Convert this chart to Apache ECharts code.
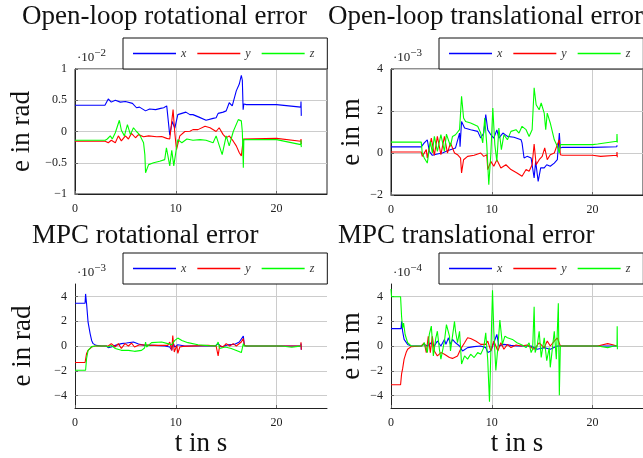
<!DOCTYPE html>
<html>
<head>
<meta charset="utf-8">
<title>Open-loop and MPC errors</title>
<script src="https://cdn.jsdelivr.net/npm/echarts@6.0.0/dist/echarts.min.js"></script>
<style>
html, body { margin: 0; padding: 0; background: #fff; }
#main { width: 643px; height: 458px; }
</style>
</head>
<body>
<div id="main"></div>
<script>
// tick labels
const timeTicks = [0, 10, 20];
const olRotTicks = [-1, -0.5, 0, 0.5, 1];
const olTrTicks = [-2, 0, 2, 4];
const mpcTicks = [-4, -2, 0, 2, 4];
const seriesNames = ['x', 'y', 'z'];

// open-loop rotational error, [t in s, e in 1e-2 rad]
const olRotX = [[0,0.42],[2.97,0.42],[3.3,0.52],[3.6,0.47],[4.0,0.5],[4.5,0.47],[5.0,0.48],[5.7,0.45],[6.1,0.38],[6.4,0.39],[7.0,0.33],[7.4,0.36],[8.0,0.35],[8.5,0.37],[8.8,0.38],[9.1,0.41],[9.4,-0.06],[9.65,0.16],[9.9,0.05],[10.2,0.27],[10.6,0.29],[11.0,0.31],[11.4,0.27],[11.7,0.27],[12.3,0.23],[13.0,0.18],[13.7,0.21],[14.0,0.22],[14.2,0.29],[14.7,0.31],[15.0,0.33],[15.3,0.46],[15.6,0.41],[16.0,0.65],[16.3,0.76],[16.5,0.9],[16.6,0.82],[16.68,0.35],[16.75,0.44],[17.0,0.43],[20.0,0.43],[22.4,0.39],[22.42,0.48],[22.45,0.25]];
const olRotY = [[0,-0.155],[3.0,-0.155],[3.3,-0.18],[3.6,-0.14],[4.0,-0.18],[4.3,-0.07],[4.6,-0.15],[5.0,-0.07],[5.3,-0.12],[5.6,-0.03],[6.0,-0.1],[6.3,-0.05],[6.8,-0.085],[7.3,-0.07],[8.1,-0.085],[8.6,-0.08],[9.1,-0.11],[9.4,-0.12],[9.73,0.35],[9.9,-0.02],[10.07,-0.29],[10.4,-0.07],[10.9,0.0],[11.4,0.005],[11.7,0.03],[12.2,0.03],[12.9,0.085],[13.4,0.06],[14.0,0.0],[14.3,0.06],[14.7,-0.05],[15.0,-0.1],[15.3,-0.07],[15.7,-0.155],[16.0,-0.23],[16.3,-0.34],[16.5,-0.39],[16.7,-0.12],[16.8,-0.11],[20.0,-0.11],[22.4,-0.155],[22.42,-0.12],[22.45,-0.2]];
const olRotZ = [[0,-0.14],[3.0,-0.14],[3.2,-0.12],[3.5,-0.07],[3.7,-0.12],[4.0,-0.02],[4.4,0.18],[4.6,0.02],[4.9,-0.07],[5.2,0.11],[5.5,-0.05],[5.8,0.06],[6.1,0.0],[6.4,-0.05],[6.8,-0.18],[6.93,-0.37],[7.0,-0.66],[7.3,-0.53],[7.8,-0.5],[8.4,-0.475],[8.9,-0.45],[9.07,-0.26],[9.4,-0.55],[9.6,-0.3],[9.8,-0.55],[10.07,-0.26],[10.2,-0.13],[10.6,-0.18],[11.1,-0.12],[11.7,-0.14],[12.4,-0.13],[13.0,-0.14],[13.7,-0.18],[14.0,-0.07],[14.6,-0.37],[15.0,-0.07],[15.3,-0.23],[15.7,0.0],[16.2,0.19],[16.5,0.17],[16.6,0.0],[16.7,-0.58],[16.75,-0.13],[20.0,-0.13],[22.4,-0.21],[22.42,-0.14],[22.45,-0.25]];

// open-loop translational error, [t in s, e in 1e-3 m]
const olTrX = [[0,0.29],[3.0,0.29],[3.3,0.48],[3.6,0.63],[3.8,0.08],[4.1,-0.11],[4.6,-0.05],[5.1,0],[5.6,0.11],[6.1,0.19],[6.4,0.24],[6.8,0.95],[6.85,0.3],[7.0,1.5],[7.3,1.19],[7.9,1.11],[8.6,1.03],[8.9,0.71],[9.2,0.95],[9.4,1.83],[9.6,1.1],[9.9,0.87],[10.2,0.71],[10.5,1.1],[10.7,0.71],[11.1,0.95],[11.55,0.79],[12.2,0.75],[12.9,0.63],[13.0,0.48],[13.2,-0.24],[13.5,-0.16],[13.9,-0.24],[14.0,-0.56],[14.2,-1.19],[14.35,-0.4],[14.6,-1.35],[14.85,-0.71],[15.2,-0.71],[15.45,-0.56],[15.8,-0.63],[16.2,-0.48],[16.5,-0.32],[16.7,0.95],[16.8,0.24],[17.0,0.27],[20.0,0.27],[22.4,0.3],[22.42,0.37],[22.45,0.24]];
const olTrY = [[0,0.05],[3.0,0.05],[3.1,-0.16],[3.5,0.16],[3.6,-0.24],[4.0,0.71],[4.3,-0.11],[4.6,0.79],[4.95,-0.08],[5.3,0.79],[5.6,0],[5.9,0.48],[6.3,0],[6.6,-0.08],[6.9,-0.24],[7.0,-0.95],[7.2,-0.32],[7.6,-0.16],[8.25,-0.11],[8.9,0],[9.2,-0.16],[9.5,-0.08],[9.6,-0.79],[9.9,-0.4],[10.2,-0.63],[10.5,-0.32],[10.9,-0.71],[11.4,-0.56],[11.9,-0.79],[12.5,-0.95],[13.0,-1.11],[13.4,-0.79],[13.7,-0.87],[14.0,-0.56],[14.2,0.43],[14.4,-0.56],[14.7,-0.32],[15.0,-0.16],[15.25,0.24],[15.5,-0.32],[15.8,-0.08],[16.2,0],[16.5,0.4],[16.7,0.63],[16.8,-0.08],[17.0,-0.11],[20.0,-0.11],[20.8,-0.16],[22.4,-0.11],[22.42,0.05],[22.45,-0.2]];
const olTrZ = [[0,0.52],[3.0,0.52],[3.1,0],[3.3,-0.24],[3.6,-0.48],[3.9,0.56],[4.1,0],[4.3,0.79],[4.6,0.08],[4.95,0.87],[5.3,0.08],[5.5,0.9],[5.9,0.32],[6.1,0.79],[6.4,0.87],[6.8,1.11],[7.0,2.7],[7.2,1.67],[7.4,1.5],[7.9,1.43],[8.6,1.27],[8.9,0.95],[9.1,0.48],[9.3,1.67],[9.5,0.4],[9.7,-1.51],[9.9,-0.08],[10.1,2.14],[10.3,0.4],[10.5,-0.4],[10.7,1.19],[10.95,0.16],[11.2,0.87],[11.55,0.63],[11.9,1.03],[12.4,1.11],[12.7,0.95],[13.0,1.27],[13.4,1.11],[13.7,0.79],[14.0,1.11],[14.2,3.1],[14.4,2.3],[14.7,2.06],[14.9,2.38],[15.2,1.9],[15.35,1.11],[15.5,1.9],[15.8,1.43],[16.2,0.63],[16.5,0.32],[16.7,0],[16.8,0.4],[20.0,0.4],[20.5,0.43],[22.4,0.56],[22.42,0.9],[22.45,0.5]];

// MPC rotational error, [t in s, e in 1e-3 rad]
const mpcRotX = [[0,3.45],[1.0,3.45],[1.05,4.2],[1.15,3.4],[1.3,1.9],[1.5,1.0],[1.65,0.45],[1.8,0.19],[2.1,0.05],[2.6,0],[3.1,0],[3.3,-0.13],[3.6,-0.08],[4.0,0.05],[4.6,0.19],[5.1,0.24],[5.8,0.32],[6.3,0.16],[6.9,0.05],[7.9,0.05],[8.9,0],[9.4,-0.08],[9.6,-0.35],[9.7,0.32],[9.9,-0.08],[10.2,0.1],[10.9,0],[13.9,0],[14.2,0.19],[14.5,-0.08],[15.2,0.1],[15.8,0.13],[16.3,0.32],[16.7,0.8],[16.8,0.05],[17.0,0],[22.4,0],[22.42,0.2],[22.45,-0.3]];
const mpcRotY = [[0,-1.33],[1.0,-1.33],[1.15,-0.6],[1.3,-0.35],[1.65,-0.08],[2.0,0],[3.3,0],[3.6,0.19],[4.0,-0.08],[4.3,0.19],[4.6,-0.2],[4.95,0.19],[5.3,0],[5.6,0.24],[5.9,-0.08],[6.4,0.1],[7.9,0.05],[9.2,0.05],[9.4,0.32],[9.6,-0.35],[9.7,0.85],[9.85,-0.48],[10.1,0.05],[10.2,-0.6],[10.4,-0.08],[10.7,-0.03],[13.2,0.05],[14.0,0],[14.2,-0.8],[14.35,0.05],[14.7,-0.08],[15.0,0.19],[15.35,0],[15.7,0.19],[16.0,0],[16.5,0.32],[16.7,0.6],[16.8,0.05],[17.0,0],[22.4,0],[22.42,0.3],[22.45,-0.3]];
const mpcRotZ = [[0,-1.95],[1.05,-1.95],[1.15,-1.0],[1.3,-0.35],[1.65,-0.05],[2.0,0],[3.1,0],[3.3,-0.08],[3.6,0.05],[4.0,-0.2],[4.6,-0.35],[5.3,-0.35],[5.9,-0.43],[6.6,-0.35],[6.9,-0.16],[7.0,0.32],[7.1,-0.08],[7.6,0.27],[8.6,0.32],[9.2,0.19],[9.6,0.1],[9.9,0.45],[10.2,0.64],[10.6,0.45],[11.2,0.27],[12.2,0.1],[13.2,0.03],[14.0,0],[14.2,0.32],[14.35,-0.2],[14.9,-0.08],[15.5,-0.2],[16.2,-0.43],[16.5,-0.53],[16.7,0.19],[16.8,0],[20.5,0],[21.5,-0.1],[22.1,-0.03],[22.4,0]];

// MPC translational error, [t in s, e in 1e-4 m]
const mpcTrX = [[0,1.4],[1.0,1.4],[1.05,2.0],[1.15,1.2],[1.3,0.53],[1.65,0.13],[2.0,0],[3.0,0],[3.3,0.13],[3.6,0],[4.0,0.26],[4.3,0],[4.6,0.4],[4.95,0],[5.3,0.53],[5.45,0.13],[5.7,0.66],[5.9,0.13],[6.1,0.53],[6.4,0.26],[6.8,0],[7.1,-0.4],[7.6,-0.13],[8.25,-0.05],[8.9,0],[9.4,-0.13],[9.6,-0.53],[9.9,-0.4],[10.2,0.26],[10.5,0.93],[10.7,0],[11.2,0.13],[11.9,0.05],[12.5,0],[13.9,0],[14.5,-0.26],[15.2,-0.13],[15.8,-0.26],[16.5,0],[17.0,0],[22.4,0]];
const mpcTrY = [[0,-3.12],[0.95,-3.12],[1.05,-2.25],[1.15,-1.85],[1.3,-1.06],[1.5,-0.53],[1.65,-0.26],[2.0,-0.05],[3.0,0],[3.3,0.26],[3.5,-0.53],[3.7,0.79],[3.9,-0.53],[4.1,0.79],[4.3,-0.4],[4.6,-0.8],[4.95,-0.53],[5.3,-0.66],[5.8,-0.93],[6.1,-1.0],[6.6,-0.8],[6.9,-0.26],[7.3,0.26],[7.6,0.66],[7.9,0.6],[8.4,0.4],[8.9,0.13],[9.4,0.13],[9.6,0.4],[9.9,-0.4],[10.2,0.4],[10.6,-0.4],[10.9,0.26],[11.2,-0.26],[11.55,0.13],[11.9,-0.13],[12.4,0.08],[12.9,0],[13.5,0.08],[14.2,-0.26],[14.7,0.26],[15.2,-0.13],[15.5,0.4],[15.8,0],[16.2,0.4],[16.5,0.66],[16.65,0.53],[16.8,0],[20.5,0],[21.0,0.1],[21.5,0.19],[22.0,0.1],[22.4,0]];
const mpcTrZ = [[0,4.6],[0.05,3.97],[0.95,3.97],[1.05,2.38],[1.15,1.45],[1.25,1.85],[1.4,0.93],[1.65,0.26],[2.0,0],[3.1,0],[3.3,0.26],[3.5,-0.26],[3.6,-0.53],[3.8,0.93],[4.0,1.6],[4.2,-0.8],[4.45,0.66],[4.6,1.19],[4.8,-0.26],[4.95,-1.06],[5.3,0.4],[5.5,1.72],[5.8,0.8],[5.9,-0.4],[6.3,1.98],[6.4,1.19],[6.6,0.26],[6.8,1.19],[7.0,-1.45],[7.3,-0.8],[7.6,-1.06],[7.9,-0.66],[8.25,-0.93],[8.6,-0.53],[8.9,-0.66],[9.2,-0.13],[9.4,1.06],[9.6,-1.19],[9.77,-4.5],[9.9,-0.66],[10.07,4.5],[10.2,1.19],[10.4,-1.98],[10.6,-0.13],[10.8,2.1],[11.05,0.13],[11.3,0.8],[11.55,0.66],[12.05,0.53],[12.5,0.26],[13.0,0.08],[13.4,-0.13],[13.7,0.26],[13.9,-0.53],[14.05,-0.26],[14.2,3.17],[14.3,-0.53],[14.5,0],[14.7,1.19],[14.9,-0.93],[15.2,0.66],[15.45,-1.19],[15.7,-0.13],[15.8,-1.72],[16.2,1.19],[16.4,-1.06],[16.6,3.44],[16.7,-3.97],[16.8,0],[20.5,0],[21.5,-0.13],[22.1,0],[22.42,0],[22.44,1.6],[22.46,-0.26]];

const colors = ['#0000ff', '#ff0000', '#00ff00'];
const serif = '"Liberation Serif", "DejaVu Serif", serif';

const panels = [
  { title: 'Open-loop rotational error', yName: 'e in rad', exp: '−2', ticks: olRotTicks, min: -1, max: 1,
    data: [olRotX, olRotY, olRotZ], grid: { left: 75, top: 69, width: 252, height: 125 }, box: true, nameGap: 40 },
  { title: 'Open-loop translational error', yName: 'e in m', exp: '−3', ticks: olTrTicks, min: -2, max: 4,
    data: [olTrX, olTrY, olTrZ], grid: { left: 391, top: 69, width: 253, height: 126 }, box: true, nameGap: 26 },
  { title: 'MPC rotational error', yName: 'e in rad', exp: '−3', ticks: mpcTicks, min: -5, max: 5,
    data: [mpcRotX, mpcRotY, mpcRotZ], grid: { left: 75, top: 284, width: 252, height: 125 }, xName: 't in s', nameGap: 39 },
  { title: 'MPC translational error', yName: 'e in m', exp: '−4', ticks: mpcTicks, min: -5, max: 5,
    data: [mpcTrX, mpcTrY, mpcTrZ], grid: { left: 391, top: 284, width: 252, height: 125 }, xName: 't in s', nameGap: 26 }
];

const minus = v => String(v).replace('-', '−');

const option = {
  animation: false,
  backgroundColor: '#fff',
  color: colors,
  grid: [],
  xAxis: [],
  yAxis: [],
  legend: [],
  series: [],
  graphic: []
};

panels.forEach((p, i) => {
  option.grid.push(Object.assign({
    show: !!p.box,
    borderColor: '#222',
    borderWidth: 1,
    backgroundColor: 'transparent'
  }, p.grid));
  option.xAxis.push({
    type: 'value',
    gridIndex: i,
    min: 0,
    max: 25,
    name: p.xName || '',
    nameLocation: 'middle',
    nameGap: 22,
    nameTextStyle: { fontFamily: serif, fontSize: 27, color: '#111' },
    axisLine: { show: true, onZero: false, lineStyle: { color: '#222', width: 1 } },
    axisTick: { show: true, inside: true, length: 3, customValues: timeTicks, lineStyle: { color: '#666' } },
    axisLabel: { customValues: timeTicks, fontFamily: serif, fontSize: 12, color: '#222', margin: 9 },
    splitLine: { show: true, lineStyle: { color: '#cccccc', width: 1 } }
  });
  option.yAxis.push({
    type: 'value',
    gridIndex: i,
    min: p.min,
    max: p.max,
    name: p.yName,
    nameLocation: 'middle',
    nameGap: p.nameGap,
    nameRotate: 90,
    nameTextStyle: { fontFamily: serif, fontSize: 27, color: '#111' },
    axisLine: { show: true, onZero: false, lineStyle: { color: '#222', width: 1 } },
    axisTick: { show: true, inside: true, length: 3, customValues: p.ticks, lineStyle: { color: '#666' } },
    axisLabel: { customValues: p.ticks, fontFamily: serif, fontSize: 12, color: '#222', margin: 8, formatter: minus },
    splitLine: { show: true, lineStyle: { color: '#cccccc', width: 1 } }
  });
  option.legend.push({
    data: seriesNames,
    left: p.grid.left + 48,
    top: p.grid.top - 31,
    width: 400,
    orient: 'horizontal',
    icon: 'rect',
    itemWidth: 43,
    itemHeight: 1.3,
    itemGap: 11,
    padding: [9, 13, 9, 10],
    backgroundColor: '#fff',
    borderColor: '#111',
    borderWidth: 1,
    borderRadius: 0,
    selectedMode: false,
    textStyle: { fontFamily: serif, fontStyle: 'italic', fontSize: 12, color: '#333', lineHeight: 13 }
  });
  p.data.forEach((d, k) => {
    option.series.push({
      name: seriesNames[k],
      type: 'line',
      xAxisIndex: i,
      yAxisIndex: i,
      data: d,
      symbol: 'none',
      lineStyle: { width: 1.1, color: colors[k] },
      itemStyle: { color: colors[k] }
    });
  });
  // panel title and axis multiplier
  const titleX = [22, 328, 32, 338][i];
  const titleY = [17, 17, 236, 236][i];
  option.graphic.push({
    type: 'text',
    x: titleX,
    y: titleY,
    style: { text: p.title, fontFamily: serif, fontSize: 27, fill: '#111', textVerticalAlign: 'middle' }
  });
  option.graphic.push({
    type: 'text',
    x: p.grid.left + 2,
    y: p.grid.top - 21,
    style: {
      text: '{b|·10}{s|' + p.exp + '}',
      rich: {
        b: { fontFamily: serif, fontSize: 13, fill: '#222', verticalAlign: 'bottom', lineHeight: 16 },
        s: { fontFamily: serif, fontSize: 11, fill: '#222', verticalAlign: 'top', lineHeight: 16 }
      }
    }
  });
});

const chart = echarts.init(document.getElementById('main'), null, { renderer: 'canvas' });
chart.setOption(option);
</script>
</body>
</html>
